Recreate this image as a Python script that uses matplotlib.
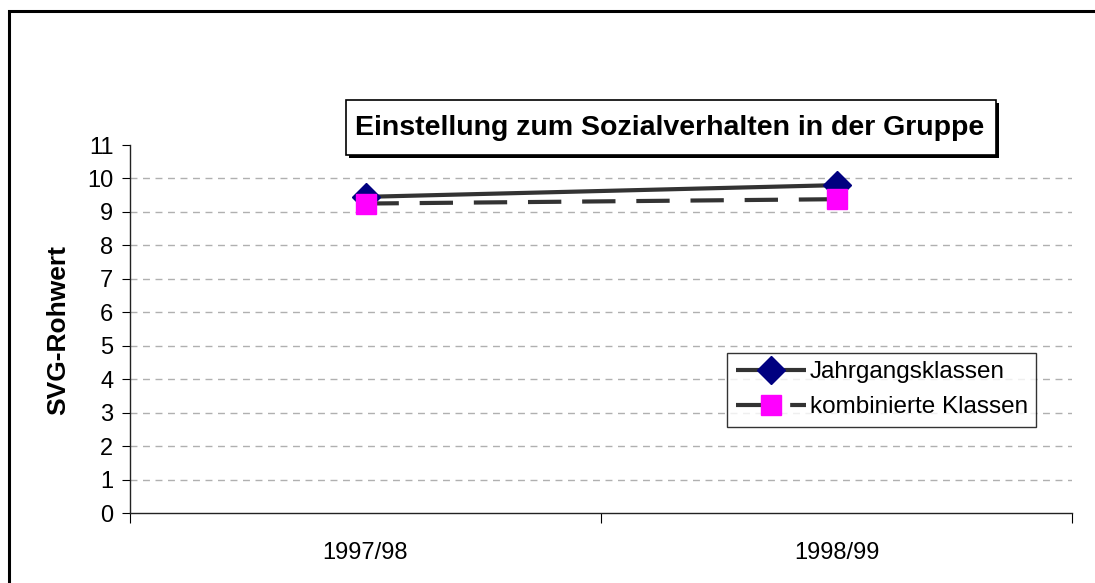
import numpy as np
import matplotlib.pyplot as plt
from matplotlib.patches import Rectangle

# data
categories = ["1997/98", "1998/99"]
jahrgang = [9.45, 9.8]
kombiniert = [9.25, 9.38]
series_names = ["Jahrgangsklassen", "kombinierte Klassen"]
y_ticks = list(range(0, 12))

plt.rcParams["font.family"] = ["Liberation Sans", "DejaVu Sans"]

W, H = 1095, 583
fig = plt.figure(figsize=(W / 100, H / 100), dpi=100)
ax = fig.add_axes([130 / W, 70 / H, 942 / W, 368 / H])


def px_rect(x0, y0, x1, y1, **kw):
    # rectangle given in pixel coords from top-left
    return Rectangle((x0 / W, 1 - y1 / H), (x1 - x0) / W, (y1 - y0) / H,
                     transform=fig.transFigure, **kw)


# outer frame of the chart area
fig.patches.append(px_rect(9, 11, 1200, 800, fill=False, edgecolor="black",
                           linewidth=2.2, zorder=0))

x = np.arange(len(categories))
ax.plot(x, jahrgang, color="#333333", linewidth=3, solid_capstyle="butt",
        marker="D", markersize=14, markerfacecolor="#000080",
        markeredgecolor="#000080", label=series_names[0], zorder=3)
ax.plot(x, kombiniert, color="#333333", linewidth=3, linestyle=(0, (8, 5)),
        marker="s", markersize=14, markerfacecolor="#FF00FF",
        markeredgecolor="#FF00FF", label=series_names[1], zorder=4)

ax.set_xlim(-0.5, len(categories) - 0.5)
ax.set_ylim(0, 11)
ax.set_yticks(y_ticks)
ax.tick_params(axis="y", labelsize=17, length=6, direction="out", pad=6)

# category boundaries as ticks, labels in between
ax.set_xticks(np.arange(len(categories) + 1) - 0.5)
ax.set_xticklabels([])
ax.set_xticks(x, minor=True)
ax.set_xticklabels(categories, minor=True)
ax.tick_params(axis="x", which="major", length=7, direction="out")
ax.tick_params(axis="x", which="minor", length=0, labelsize=17, pad=21)

ax.yaxis.grid(True, linestyle=(0, (5, 4)), color="#b0b0b0", linewidth=1)
ax.get_ygridlines()[-1].set_visible(False)
ax.get_ygridlines()[0].set_visible(False)
ax.set_axisbelow(True)

for side in ["top", "right"]:
    ax.spines[side].set_visible(False)
for side in ["left", "bottom"]:
    ax.spines[side].set_color("#222222")
    ax.spines[side].set_linewidth(1)

ax.set_ylabel("SVG-Rohwert", fontsize=19, fontweight="bold")
ax.yaxis.set_label_coords(70 / W, 1 - 330 / H, transform=fig.transFigure)

# title with shadow box
fig.patches.append(px_rect(349, 103, 999, 158, facecolor="black",
                           edgecolor="none", zorder=1))
fig.patches.append(px_rect(346, 100, 996, 155, facecolor="white",
                           edgecolor="black", linewidth=1.2, zorder=2))
fig.text(670 / W, 1 - 128 / H, "Einstellung zum Sozialverhalten in der Gruppe",
         ha="center", va="center", fontsize=20.5, fontweight="bold", zorder=3)

leg = ax.legend(loc="lower left", bbox_to_anchor=(727 / W, 1 - 427 / H),
                bbox_transform=fig.transFigure, fontsize=17.5, frameon=True,
                fancybox=False, edgecolor="black", handlelength=2.9,
                handletextpad=0.15, borderpad=0.35, labelspacing=0.55,
                borderaxespad=0)
leg.get_frame().set_linewidth(1)

fig.savefig("out.png", dpi=100)
